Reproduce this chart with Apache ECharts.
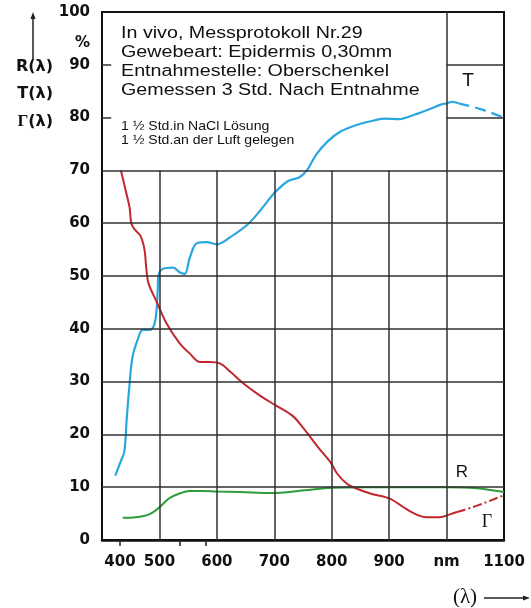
<!DOCTYPE html>
<html>
<head>
<meta charset="utf-8">
<script src="https://cdn.jsdelivr.net/npm/echarts@6/dist/echarts.min.js"></script>
<style>html,body{margin:0;padding:0;background:#fff}#c{width:531px;height:608px}</style>
</head>
<body>
<div id="c"></div>
<script>
// ---- data (wavelength in nm, values in %) ----
const tNm   = [423,433,439,443,448,453,462,471,483,491,495,497,498,505,524,535,544,553,565,582,600,624,654,677,701,724,744,758,773,793,816,846,875,893,917,945,968,991,1001,1010,1021];
const tVal  = [12.2,15,16.8,22.9,29.5,34.6,37.9,39.8,39.8,40.8,43.6,47.3,49.9,51.3,51.6,50.7,50.4,53.5,56.2,56.4,56.0,57.4,59.8,62.6,65.8,68.0,68.7,70.2,73.0,75.5,77.4,78.7,79.5,79.8,79.7,80.6,81.5,82.5,82.7,83.0,82.7];
const tDashNm  = [1021,1059,1100];
const tDashVal = [82.7,81.6,80.0];

const gNm   = [433,441,448,451,457,467,474,477,481,494,512,535,553,571,588,606,624,648,677,701,731,752,776,798,810,827,844,867,902,925,948,965,988,1007,1018];
const gVal  = [70,66.3,63,60,58.8,57.6,55,51.6,48.6,45.4,41.1,37.3,35.3,33.7,33.7,33.4,31.8,29.5,27.2,25.6,23.6,21,17.6,14.7,12.5,10.6,9.7,8.8,7.8,6.2,4.8,4.3,4.3,4.9,5.3];
const gDashNm  = [1018,1053,1100];
const gDashVal = [5.3,6.5,8.5];

const rNm   = [436,459,483,500,517,535,552,576,600,641,694,752,800,863,1001,1052,1100];
const rVal  = [4.2,4.3,4.9,6.2,7.9,8.8,9.3,9.3,9.2,9.1,8.9,9.4,9.9,10,10,9.8,9.1];

// ---- axes / ticks ----
const xTickValues = [400,500,600,700,800,900,1000,1100];
const xTickLabels = ['400','500','600','700','800','900','nm','1100'];
const xMinorTicks = [431,535,581];
const xGridLow  = [500,600,700,800,900];   // vertical lines up to 70 %
const xGridFull = [1000];                  // vertical line up to 100 %
const yGridFull = [10,20,30,40,50,60,70];  // full-width horizontal lines
const yGridRight = [80,90];                // only in the right column
const yLeftTicks = [80,90];

const boxLines = ['In vivo, Messprotokoll Nr.29','Gewebeart: Epidermis 0,30mm','Entnahmestelle: Oberschenkel','Gemessen 3 Std. Nach Entnahme'];
const boxSmall = ['1 \u00bd Std.in NaCl L\u00f6sung','1 \u00bd Std.an der Luft gelegen'];

const zip = (a,b) => a.map((v,i)=>[v,b[i]]);

const gridColor = '#303030';
const markData = [];
xGridLow.forEach(x => markData.push([{coord:[x,0]},{coord:[x,70]}]));
xGridFull.forEach(x => markData.push([{coord:[x,0]},{coord:[x,100]}]));
yGridFull.forEach(y => markData.push([{coord:[400,y]},{coord:[1100,y]}]));
yGridRight.forEach(y => markData.push([{coord:[1000,y]},{coord:[1100,y]}]));
yLeftTicks.forEach(y => markData.push([{coord:[400,y]},{coord:[416,y]}]));

const blue = '#2ba7df', red = '#c1272d', green = '#2f9b3b';
const lblFont = 'DejaVu Sans';

const graphics = [];
boxLines.forEach((t,i)=>graphics.push({type:'text', x:121, y:33.5 + i*19, scaleX:1.23,
  style:{text:t, font:'16px "Liberation Sans"', fill:'#111', textVerticalAlign:'middle'}}));
boxSmall.forEach((t,i)=>graphics.push({type:'text', x:121, y:126 + i*14, scaleX:1.08,
  style:{text:t, font:'13px "Liberation Sans"', fill:'#111', textVerticalAlign:'middle'}}));
graphics.push(
  {type:'text', x:90, y:43, style:{text:'%', font:'bold 15px "DejaVu Sans"', fill:'#111', textAlign:'right', textVerticalAlign:'middle'}},
  {type:'text', x:53, y:67, style:{text:'R(\u03bb)', font:'bold 16px "DejaVu Sans"', fill:'#111', textAlign:'right', textVerticalAlign:'middle'}},
  {type:'text', x:53, y:94, style:{text:'T(\u03bb)', font:'bold 16px "DejaVu Sans"', fill:'#111', textAlign:'right', textVerticalAlign:'middle'}},
  {type:'text', x:53, y:122, style:{text:'{g|\u0393}{s|(\u03bb)}', textAlign:'right', textVerticalAlign:'middle',
     rich:{g:{font:'bold 17px "Liberation Serif"', fill:'#111'}, s:{font:'bold 16px "DejaVu Sans"', fill:'#111'}}}},
  {type:'line', shape:{x1:33,y1:60,x2:33,y2:18}, style:{stroke:'#222', lineWidth:1.5}},
  {type:'polygon', shape:{points:[[33,12],[30.5,19],[35.5,19]]}, style:{fill:'#222'}},
  {type:'text', x:465, y:597, style:{text:'(\u03bb)', font:'21px "Liberation Serif"', fill:'#111', textAlign:'center', textVerticalAlign:'middle'}},
  {type:'line', shape:{x1:484,y1:598,x2:524,y2:598}, style:{stroke:'#222', lineWidth:1.3}},
  {type:'polygon', shape:{points:[[530,598],[523,595.5],[523,600.5]]}, style:{fill:'#222'}},
  {type:'text', x:468, y:81, style:{text:'T', font:'19px "Liberation Sans"', fill:'#111', textAlign:'center', textVerticalAlign:'middle'}},
  {type:'text', x:462, y:472, style:{text:'R', font:'17px "Liberation Sans"', fill:'#111', textAlign:'center', textVerticalAlign:'middle'}},
  {type:'text', x:487, y:522, style:{text:'\u0393', font:'18px "Liberation Serif"', fill:'#111', textAlign:'center', textVerticalAlign:'middle'}}
);

const chart = echarts.init(document.getElementById('c'), null, {renderer:'canvas'});
chart.setOption({
  animation:false,
  backgroundColor:'#fff',
  grid:{left:102, right:27, top:12, bottom:68, show:true, borderColor:'#111', borderWidth:2, containLabel:false, outerBoundsMode:'none'},
  xAxis:{
    type:'value', min:400, max:1100, interval:100,
    axisLine:{show:true, onZero:false, lineStyle:{color:'#111', width:2.5}},
    axisTick:{show:true, customValues:xMinorTicks, length:6, lineStyle:{color:'#222', width:1.5}},
    splitLine:{show:false},
    axisLabel:{
      margin:15, color:'#111', fontFamily:lblFont, fontWeight:'bold', fontSize:15,
      formatter:(v)=>{const i=xTickValues.indexOf(v); if(i<0) return ''; return i===0 ? '{s|'+xTickLabels[i]+'}' : xTickLabels[i];},
      rich:{s:{fontFamily:lblFont, fontWeight:'bold', fontSize:15, color:'#111', padding:[0,0,0,36]}}
    }
  },
  yAxis:{
    type:'value', min:0, max:100, interval:10,
    axisLine:{show:true, lineStyle:{color:'#111', width:2}},
    axisTick:{show:false},
    splitLine:{show:false},
    axisLabel:{margin:12, color:'#111', fontFamily:lblFont, fontWeight:'bold', fontSize:15}
  },
  graphic:graphics,
  series:[
    {type:'line', name:'R', data:zip(rNm,rVal), smooth:0.35, showSymbol:false,
      lineStyle:{color:green, width:2}, z:3,
      markLine:{silent:true, symbol:['none','none'], label:{show:false}, animation:false,
        lineStyle:{color:gridColor, width:1.5, type:'solid'}, emphasis:{disabled:true}, data:markData}},
    {type:'line', name:'T', data:zip(tNm,tVal), smooth:0.35, showSymbol:false,
      lineStyle:{color:blue, width:2.2}, z:4},
    {type:'line', name:'T2', data:zip(tDashNm,tDashVal), smooth:0.5, showSymbol:false,
      lineStyle:{color:blue, width:2.2, type:[11,6]}, z:4},
    {type:'line', name:'G', data:zip(gNm,gVal), smooth:0.35, showSymbol:false,
      lineStyle:{color:red, width:2}, z:4},
    {type:'line', name:'G2', data:zip(gDashNm,gDashVal), smooth:0.5, showSymbol:false,
      lineStyle:{color:red, width:2, type:[9,3,2,3]}, z:4}
  ]
});
</script>
</body>
</html>
